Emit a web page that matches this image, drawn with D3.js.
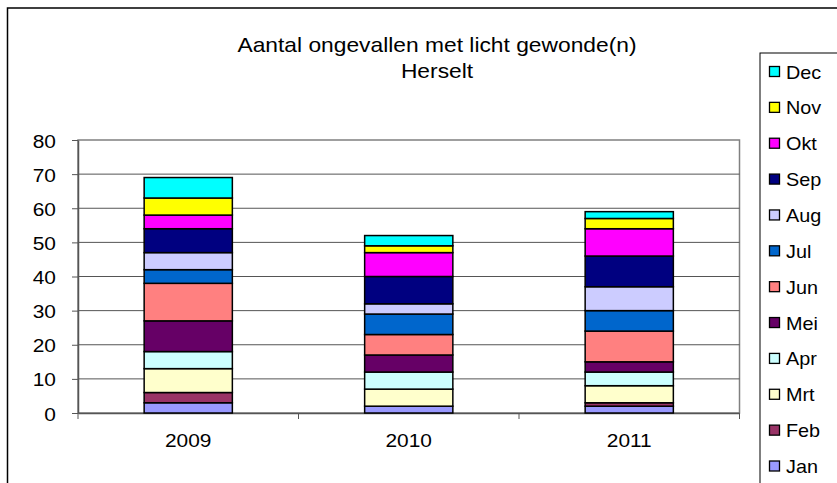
<!DOCTYPE html>
<html>
<head>
<meta charset="utf-8">
<script src="https://cdn.jsdelivr.net/npm/d3@7"></script>
<style>
  body { margin: 0; background: #fff; }
  svg { display: block; font-family: Arial, "Liberation Sans", sans-serif; }
</style>
</head>
<body>
<svg id="chart" width="837" height="483"></svg>
<script>
// years on the x axis
let years = ["2009", "2010", "2011"];

// months, bottom of the stack first
let months = ["Jan", "Feb", "Mrt", "Apr", "Mei", "Jun", "Jul", "Aug", "Sep", "Okt", "Nov", "Dec"];

// Excel default palette for the 12 series
let colors = [
  "#9999ff", "#993366", "#ffffcc", "#ccffff", "#660066", "#ff8080",
  "#0066cc", "#ccccff", "#000080", "#ff00ff", "#ffff00", "#00ffff",
];

// counts per month, one value per year
let jan = [3, 2, 2];
let feb = [3, 0, 1];
let mrt = [7, 5, 5];
let apr = [5, 5, 4];
let mei = [9, 5, 3];
let jun = [11, 6, 9];
let jul = [4, 6, 6];
let aug = [5, 3, 7];
let sep = [7, 8, 9];
let okt = [4, 7, 8];
let nov = [5, 2, 3];
let dec = [6, 3, 2];

let yTicks = [0, 10, 20, 30, 40, 50, 60, 70, 80];

let series = [jan, feb, mrt, apr, mei, jun, jul, aug, sep, okt, nov, dec];
let rows = years.map((y, i) => {
  let r = { year: y };
  months.forEach((m, j) => (r[m] = series[j][i]));
  return r;
});
let stacked = d3.stack().keys(months)(rows);

const svg = d3.select("#chart");

// outer chart frame
svg.append("rect")
  .attr("x", 7.5).attr("y", 8)
  .attr("width", 850).attr("height", 500)
  .attr("fill", "none").attr("stroke", "#000").attr("stroke-width", 1.5);

const pLeft = 78, pRight = 739.5, pTop = 140, pBottom = 413;

const x = d3.scaleBand().domain(years).range([pLeft, pRight]).paddingInner(0.6).paddingOuter(0.3);
const y = d3.scaleLinear().domain([0, 80]).range([pBottom, pTop]);

// picture is a bit stretched sideways, text too
function stretchedText(g, tx, ty, txt, size, anchor, sx = 1.1) {
  g.append("text")
    .attr("transform", `translate(${tx},${ty}) scale(${sx},1)`)
    .attr("text-anchor", anchor)
    .style("font-size", size + "px")
    .attr("fill", "#000")
    .text(txt);
}

// title
stretchedText(svg, 437, 52, "Aantal ongevallen met licht gewonde(n)", 20, "middle", 1.14);
stretchedText(svg, 437, 78, "Herselt", 20, "middle", 1.14);

// plot area border
svg.append("rect")
  .attr("x", pLeft).attr("y", pTop)
  .attr("width", pRight - pLeft).attr("height", pBottom - pTop)
  .attr("fill", "none").attr("stroke", "#808080").attr("stroke-width", 1.5);

// gridlines
svg.append("g").selectAll("line")
  .data(yTicks.slice(1, -1))
  .join("line")
  .attr("x1", pLeft).attr("x2", pRight)
  .attr("y1", (d) => y(d)).attr("y2", (d) => y(d))
  .attr("stroke", "#555").attr("stroke-width", 1);

// y axis
const yAxis = svg.append("g")
  .attr("transform", `translate(${pLeft},0)`)
  .call(d3.axisLeft(y).tickValues(yTicks).tickSize(6).tickSizeOuter(0).tickFormat(""));
yAxis.select(".domain").attr("stroke", "#555").attr("stroke-width", 1.5);
yAxis.selectAll(".tick line").attr("stroke", "#555");
yAxis.selectAll(".tick").each(function (d) {
  stretchedText(d3.select(this), -22, 7, d, 19, "end");
});

// x axis
const xAxis = svg.append("g")
  .attr("transform", `translate(0,${pBottom})`)
  .call(d3.axisBottom(x).tickSize(0).tickFormat(""));
xAxis.select(".domain").attr("stroke", "#555").attr("stroke-width", 1.5);
const bounds = years.map((yr) => x(yr) - x.step() * x.paddingInner() / 2).concat([pRight]);
bounds[0] = pLeft;
xAxis.selectAll(".bound").data(bounds).join("line")
  .attr("x1", (d) => d).attr("x2", (d) => d)
  .attr("y1", 0).attr("y2", 6)
  .attr("stroke", "#555");
years.forEach((yr) => {
  stretchedText(xAxis, x(yr) + x.bandwidth() / 2, 34, yr, 19, "middle");
});

// bars
svg.append("g").selectAll("g")
  .data(stacked)
  .join("g")
  .attr("fill", (d, i) => colors[i])
  .selectAll("rect")
  .data((d) => d.filter((v) => v[1] > v[0]))
  .join("rect")
  .attr("x", (d) => x(d.data.year))
  .attr("y", (d) => y(d[1]))
  .attr("width", x.bandwidth())
  .attr("height", (d) => y(d[0]) - y(d[1]))
  .attr("stroke", "#000").attr("stroke-width", 1.5);

// legend
const legend = svg.append("g");
legend.append("rect")
  .attr("x", 760).attr("y", 53)
  .attr("width", 100).attr("height", 460)
  .attr("fill", "#fff").attr("stroke", "#000").attr("stroke-width", 1);

const order = months.slice().reverse();
const ly = d3.scalePoint().domain(order).range([71.5, 466]);
order.forEach((m) => {
  const c = colors[months.indexOf(m)];
  legend.append("rect")
    .attr("x", 769.5).attr("y", ly(m) - 5)
    .attr("width", 10).attr("height", 10)
    .attr("fill", c).attr("stroke", "#000").attr("stroke-width", 1.3);
  stretchedText(legend, 786, ly(m) + 7, m, 18, "start");
});
</script>
</body>
</html>
